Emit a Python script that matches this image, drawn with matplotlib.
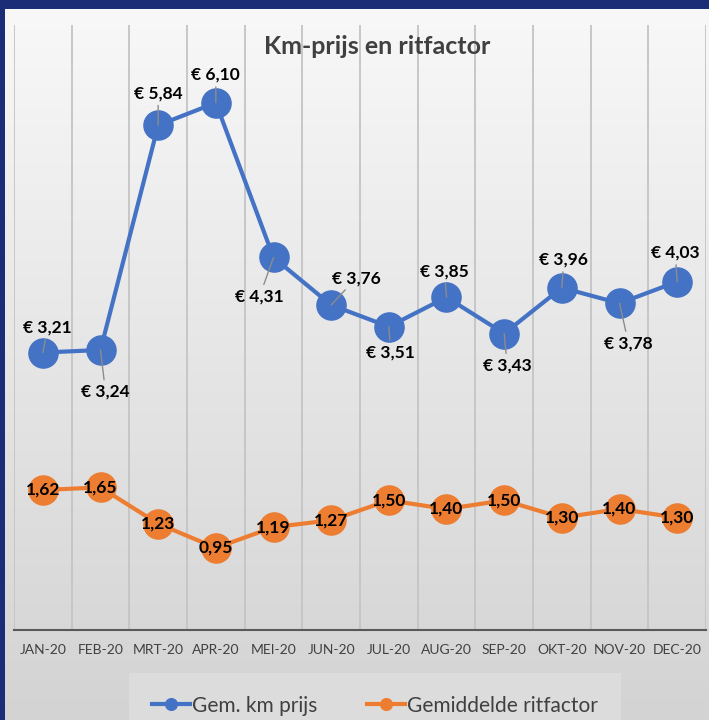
import numpy as np
import matplotlib.pyplot as plt

maanden = ["JAN-20", "FEB-20", "MRT-20", "APR-20", "MEI-20", "JUN-20",
           "JUL-20", "AUG-20", "SEP-20", "OKT-20", "NOV-20", "DEC-20"]
km_prijs = [3.21, 3.24, 5.84, 6.10, 4.31, 3.76, 3.51, 3.85, 3.43, 3.96, 3.78, 4.03]
ritfactor = [1.62, 1.65, 1.23, 0.95, 1.19, 1.27, 1.50, 1.40, 1.50, 1.30, 1.40, 1.30]

# label-offsets (pixels) van de km-prijs labels t.o.v. het punt
label_offset = [(5, 25), (5, -42), (0, 32), (0, 28), (-14, -39), (25, 27),
                (2, -26), (-2, 26), (3, -32), (2, 28), (9, -40), (-2, 29)]

blauw = "#4472C4"
oranje = "#ED7D31"
plt.rcParams['font.family'] = ['Lato', 'DejaVu Sans']

fig = plt.figure(figsize=(7.09, 7.2), dpi=100)
fig.patch.set_facecolor("#1c2d78")

# achtergrond met verloop (wit boven, grijs onder)
bg = fig.add_axes([5 / 709, 0, 1 - 5 / 709, 1 - 9 / 720])
grad = np.linspace(0, 1, 256).reshape(-1, 1)
bg.imshow(grad, aspect="auto", cmap=plt.matplotlib.colors.LinearSegmentedColormap.from_list(
    "g", ["#f8f8f8", "#d3d3d3"]), extent=[0, 1, 0, 1], origin="upper")
bg.set_axis_off()

ax = fig.add_axes([14 / 709, 90 / 720, 692 / 709, 605 / 720])
ax.patch.set_alpha(0)
x = np.arange(len(maanden))

ax.set_xlim(-0.5, len(maanden) - 0.5)
ax.set_ylim(0, 7)
for g in np.arange(-0.5, len(maanden), 1):
    ax.axvline(g, color="#c4c4c4", lw=1.3, zorder=0)

ax.plot(x, km_prijs, color=blauw, lw=3, marker="o", ms=21, zorder=3,
        label="Gem. km prijs")
ax.plot(x, ritfactor, color=oranje, lw=3, marker="o", ms=21, zorder=3,
        label="Gemiddelde ritfactor")

for xi, v, (dx, dy) in zip(x, km_prijs, label_offset):
    ax.annotate("€ " + f"{v:.2f}".replace(".", ","), (xi, v),
                xytext=(dx, dy), textcoords="offset pixels",
                ha="center", va="center", fontsize=12.5, fontweight="bold",
                color="black", zorder=5,
                arrowprops=dict(arrowstyle="-", color="#8c8c8c", lw=1,
                                shrinkA=1, shrinkB=0))

for xi, v in zip(x, ritfactor):
    ax.text(xi, v, f"{v:.2f}".replace(".", ","), ha="center", va="center",
            fontsize=12.5, fontweight="bold", color="black", zorder=5)

ax.set_xticks(x)
ax.set_xticklabels(maanden, fontsize=10, color="#404040")
ax.tick_params(axis="x", length=0, pad=10)
ax.set_yticks([])
for s in ["top", "right", "left"]:
    ax.spines[s].set_visible(False)
ax.spines["bottom"].set_color("#595959")
ax.spines["bottom"].set_linewidth(1.5)

fig.text(377 / 709, 1 - 46 / 720, "Km-prijs en ritfactor", ha="center", va="center",
         fontsize=18, fontweight="bold", color="#404040")

leg = fig.legend(loc="upper center", bbox_to_anchor=(375 / 709, 1 - 683 / 720),
                 ncol=2, frameon=True, fontsize=15, handlelength=1.8,
                 handletextpad=0.1, markerscale=0.4, columnspacing=2.4,
                 borderpad=0.6, borderaxespad=0)
leg.get_frame().set_facecolor("#dcdcdc")
leg.get_frame().set_edgecolor("none")
leg.get_frame().set_alpha(1)
leg.get_frame().set_boxstyle("square", pad=0.5)
for t in leg.get_texts():
    t.set_color("#404040")

fig.savefig("out.png", dpi=100, facecolor=fig.get_facecolor())
